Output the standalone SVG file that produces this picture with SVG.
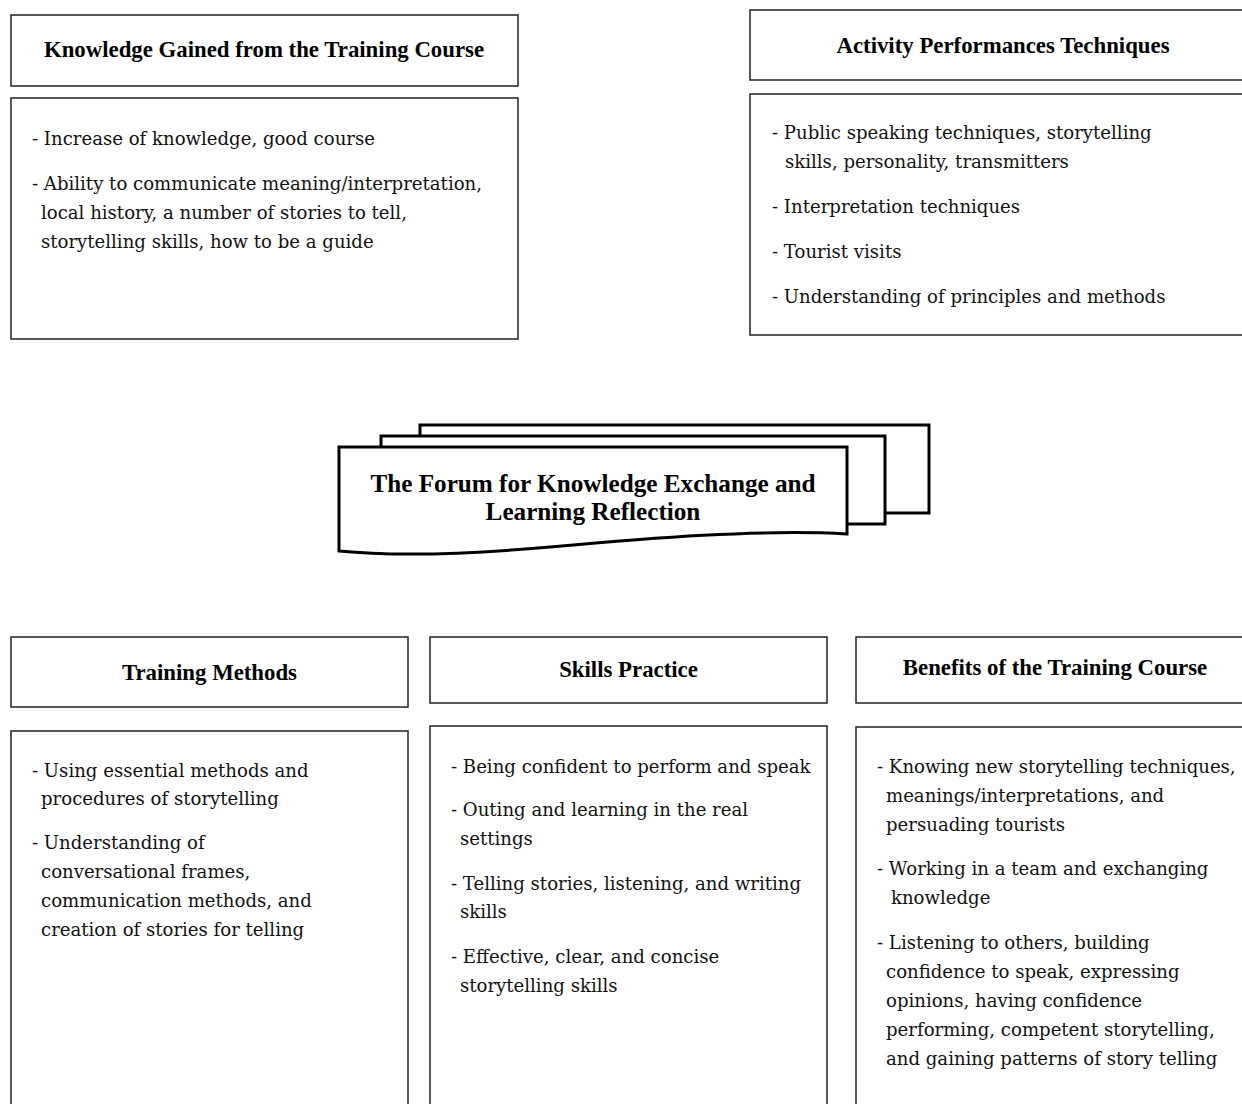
<svg xmlns="http://www.w3.org/2000/svg" width="1242" height="1104" viewBox="0 0 1242 1104">
<style>
.box{fill:#fff;stroke:#222;stroke-width:1.5}
.stack{fill:#fff;stroke:#000;stroke-width:3;stroke-linejoin:miter}
.hd{font-family:"Liberation Serif","Times New Roman",serif;font-weight:bold;font-size:22.8px;fill:#000;text-anchor:middle}
.ft{font-family:"Liberation Serif","Times New Roman",serif;font-weight:bold;font-size:25.2px;fill:#000;text-anchor:middle}
.bd{font-family:"DejaVu Serif",serif;font-size:18.1px;fill:#111}
</style>
<rect width="1242" height="1104" fill="#fff"/>
<g id="knowledge-gained">
<rect class="box" x="11" y="15" width="507" height="71"/>
<text class="hd" x="264" y="57">Knowledge Gained from the Training Course</text>
<rect class="box" x="11" y="98" width="507" height="241"/>
<text class="bd" x="32" y="145">- Increase of knowledge, good course</text>
<text class="bd" x="32" y="190">- Ability to communicate meaning/interpretation,</text>
<text class="bd" x="41" y="219">local history, a number of stories to tell,</text>
<text class="bd" x="41" y="248">storytelling skills, how to be a guide</text>
</g>
<g id="activity-techniques">
<rect class="box" x="750" y="10" width="510" height="70"/>
<text class="hd" x="1003" y="53">Activity Performances Techniques</text>
<rect class="box" x="750" y="94" width="510" height="241"/>
<text class="bd" x="772" y="139">- Public speaking techniques, storytelling</text>
<text class="bd" x="785" y="168">skills, personality, transmitters</text>
<text class="bd" x="772" y="213">- Interpretation techniques</text>
<text class="bd" x="772" y="258">- Tourist visits</text>
<text class="bd" x="772" y="303">- Understanding of principles and methods</text>
</g>
<g id="forum">
<rect class="stack" x="420" y="425" width="509" height="88"/>
<rect class="stack" x="381" y="436" width="504" height="88"/>
<path class="stack" d="M339,447 H847 V534 C 760,529 650,538 550,547 C 460,555 390,556 339,551 Z"/>
<text class="ft" x="593" y="492">The Forum for Knowledge Exchange and</text>
<text class="ft" x="593" y="520">Learning Reflection</text>
</g>
<g id="training-methods">
<rect class="box" x="11" y="637" width="397" height="70"/>
<text class="hd" x="209.5" y="680">Training Methods</text>
<rect class="box" x="11" y="731" width="397" height="390"/>
<text class="bd" x="32" y="777">- Using essential methods and</text>
<text class="bd" x="41" y="805">procedures of storytelling</text>
<text class="bd" x="32" y="849">- Understanding of</text>
<text class="bd" x="41" y="878">conversational frames,</text>
<text class="bd" x="41" y="907">communication methods, and</text>
<text class="bd" x="41" y="936">creation of stories for telling</text>
</g>
<g id="skills-practice">
<rect class="box" x="430" y="637" width="397" height="66"/>
<text class="hd" x="628.5" y="677">Skills Practice</text>
<rect class="box" x="430" y="726" width="397" height="395"/>
<text class="bd" x="451" y="773">- Being confident to perform and speak</text>
<text class="bd" x="451" y="816">- Outing and learning in the real</text>
<text class="bd" x="460" y="845">settings</text>
<text class="bd" x="451" y="890">- Telling stories, listening, and writing</text>
<text class="bd" x="460" y="918">skills</text>
<text class="bd" x="451" y="963">- Effective, clear, and concise</text>
<text class="bd" x="460" y="992">storytelling skills</text>
</g>
<g id="benefits">
<rect class="box" x="856" y="637" width="398" height="66"/>
<text class="hd" x="1055" y="675">Benefits of the Training Course</text>
<rect class="box" x="856" y="727" width="398" height="394"/>
<text class="bd" x="877" y="773">- Knowing new storytelling techniques,</text>
<text class="bd" x="886" y="802">meanings/interpretations, and</text>
<text class="bd" x="886" y="831">persuading tourists</text>
<text class="bd" x="877" y="875">- Working in a team and exchanging</text>
<text class="bd" x="891" y="904">knowledge</text>
<text class="bd" x="877" y="949">- Listening to others, building</text>
<text class="bd" x="886" y="978">confidence to speak, expressing</text>
<text class="bd" x="886" y="1007">opinions, having confidence</text>
<text class="bd" x="886" y="1036">performing, competent storytelling,</text>
<text class="bd" x="886" y="1065">and gaining patterns of story telling</text>
</g>
<g id="connectors"/>
</svg>
